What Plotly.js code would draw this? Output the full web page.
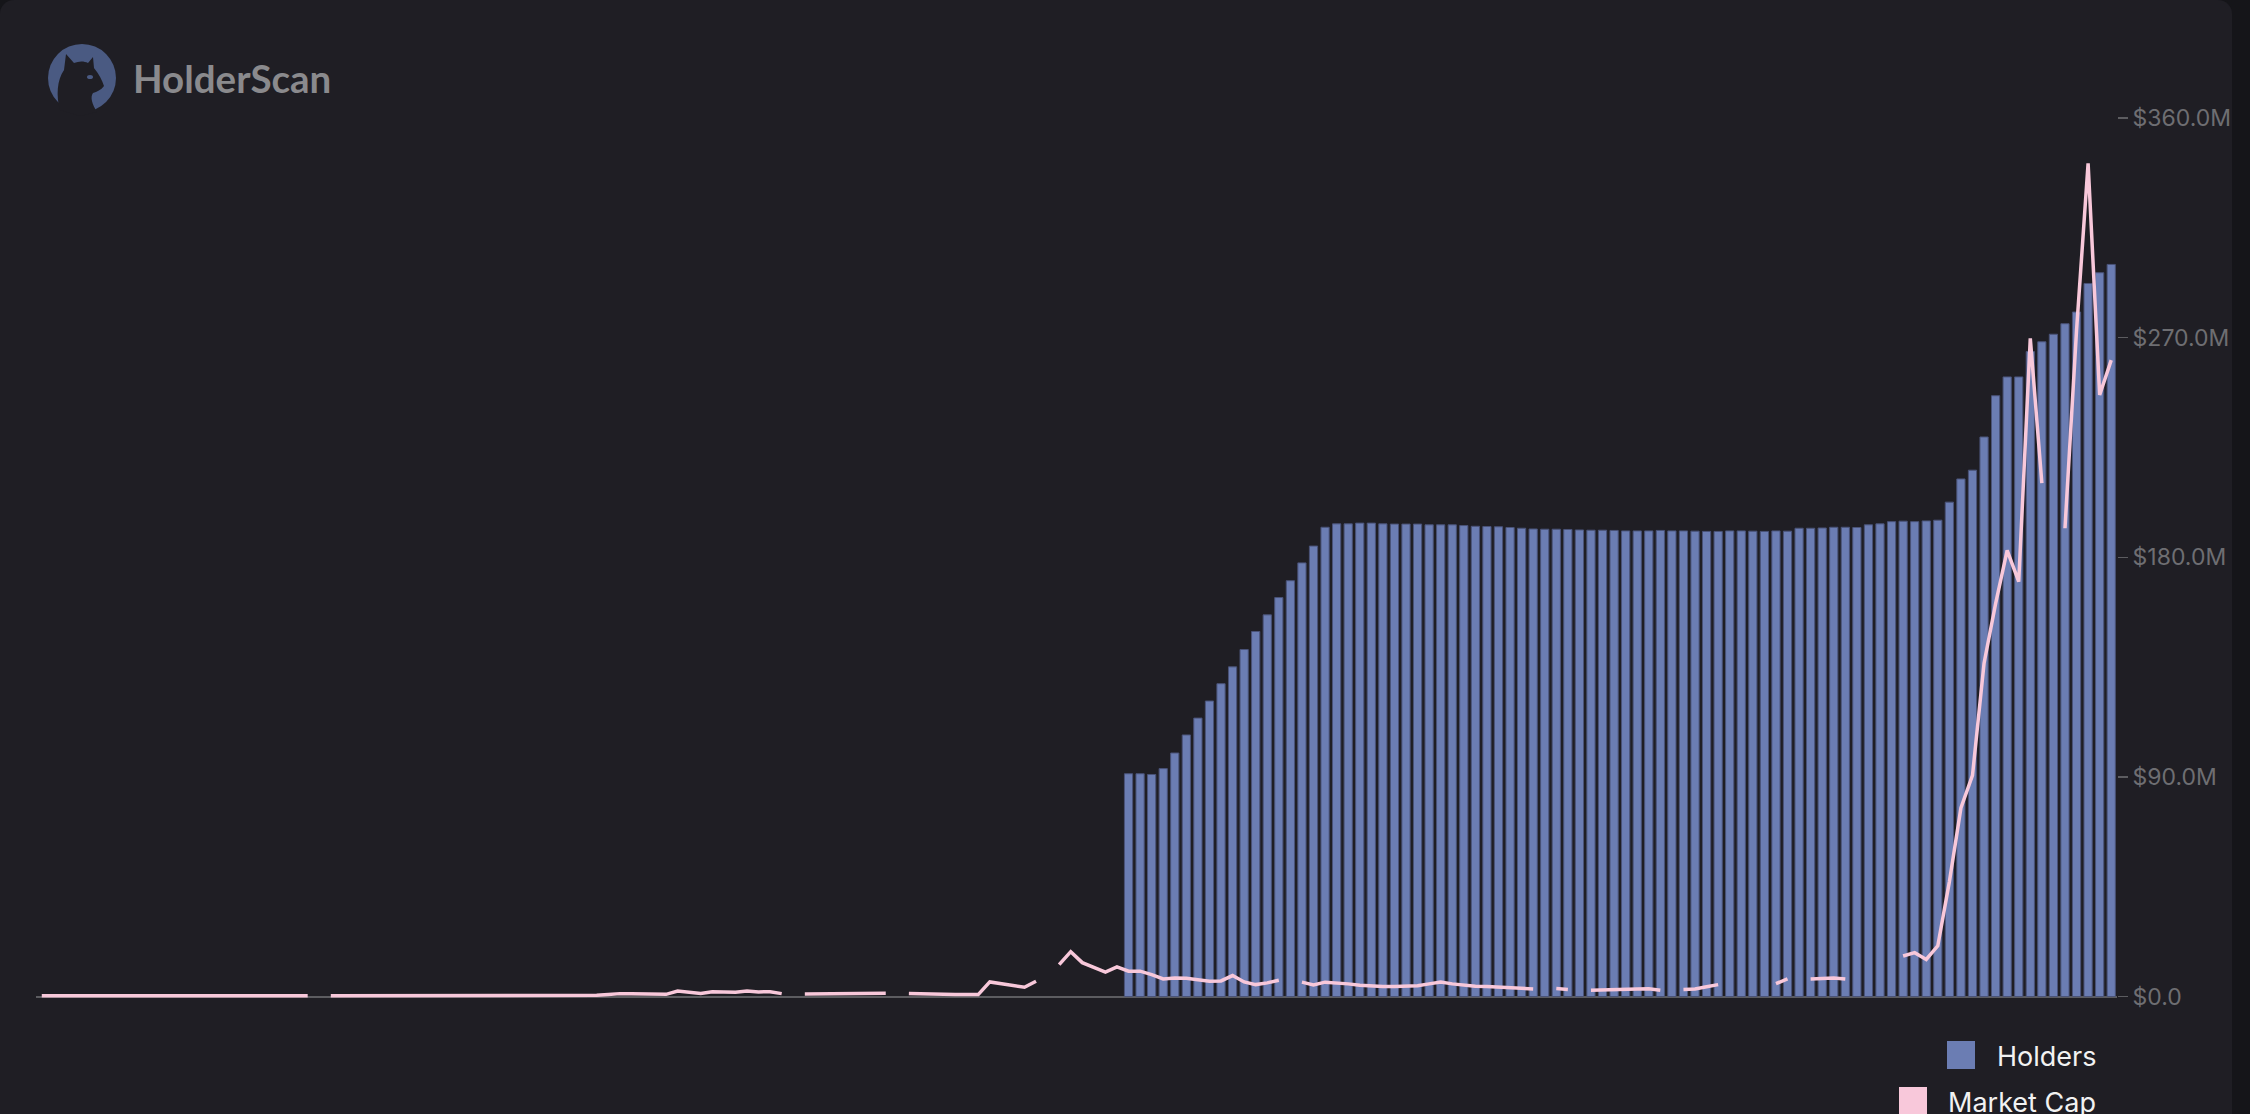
<!DOCTYPE html>
<html>
<head>
<meta charset="utf-8">
<script src="https://cdn.plot.ly/plotly-3.0.1.min.js"></script>
<style>
  html, body { margin:0; padding:0; background:#151519; width:2250px; height:1114px; overflow:hidden; }
  #card { position:absolute; left:0; top:0; width:2232px; height:1130px; background:#1f1e24; border-radius:14px; }
  #chart { position:absolute; left:0; top:0; width:2250px; height:1114px; }
</style>
</head>
<body>
<div id="card"></div>
<div id="chart"></div>
<script>
// ---- data ----
const dayCount = 180;                 // number of daily categories on the x axis
const holdersStart = 94;              // first day with a holders bar
// holder counts, days 94..179
const holders = [
  913, 913, 910, 934, 998, 1072, 1141, 1211, 1282, 1351,
  1422, 1496, 1564, 1635, 1704, 1777, 1846, 1923, 1937, 1937,
  1940, 1940, 1937, 1936, 1936, 1936, 1933, 1933, 1933, 1930,
  1927, 1926, 1925, 1922, 1919, 1916, 1915, 1915, 1914, 1912,
  1911, 1911, 1910, 1908, 1908, 1908, 1910, 1908, 1908, 1907,
  1906, 1906, 1908, 1908, 1907, 1906, 1908, 1907, 1919, 1919,
  1920, 1923, 1923, 1922, 1933, 1937, 1946, 1948, 1946, 1949,
  1952, 2026, 2121, 2157, 2293, 2462, 2539, 2539, 2643, 2683,
  2714, 2757, 2805, 2922, 2966, 3000
];
// market cap in $M, days 0..179 (null = no data)
const marketCap = [
  0.3,0.3,0.3,0.3,0.3,0.3,0.1,0.3,0.3,0.3,
  0.3,0.2,0.2,0.2,0.2,0.2,0.2,0.2,0.2,0.3,
  0.3,0.3,0.3,0.3,null,0.3,0.3,0.3,0.3,0.3,
  0.2,0.2,0.2,0.2,0.2,0.2,0.2,0.2,0.2,0.2,
  0.3,0.3,0.3,0.3,0.3,0.3,0.5,0.5,0.5,0.8,
  1.2,1.2,1.2,1.2,0.9,2.3,1.8,1.3,2.0,1.8,
  1.8,2.3,1.9,2.0,1.2,null,1.0,1.1,1.2,1.3,
  1.4,1.4,1.4,1.4,null,1.3,1.1,0.9,0.8,0.8,
  0.8,0.8,6.0,5.2,4.7,3.8,6.3,null,13.1,18.4,
  13.9,12.0,10.0,12.2,10.4,10.4,9.0,7.2,7.6,7.5,
  7.0,6.3,6.4,8.6,6.0,4.9,5.6,6.7,null,5.9,
  4.8,5.9,5.6,5.2,4.6,4.2,4.1,4.1,4.1,4.4,
  5.2,6.0,5.2,4.6,4.2,4.1,3.8,3.5,3.1,3.1,
  null,3.3,2.9,null,2.6,2.8,2.9,3.0,3.1,3.2,
  2.6,null,2.9,3.1,4.0,4.9,null,null,null,null,
  5.3,7.2,null,7.2,7.5,7.6,7.2,null,null,null,
  null,16.6,18.0,15.2,20.8,47.0,77.3,90.6,136.6,161.0,
  182.8,170.0,269.7,210.4,null,191.9,273.0,341.4,246.5,260.8
];
const yTickVals = [0, 90, 180, 270, 360];
const yTickText = ['$0.0', '$90.0M', '$180.0M', '$270.0M', '$360.0M'];
const legendNames = ['Holders', 'Market Cap'];
const brandName = 'HolderScan';

// ---- styling ----
const barColor = '#6b7db3';
const lineColor = '#f8c8da';
const W = 2250, H = 1114, L = 36, R = 133, T = 118, B = 115;
const pw = W - L - R, ph = H - T - B;
const px = X => (X - L) / pw;
const py = Y => (H - B - Y) / ph;

const days = Array.from({length: dayCount}, (_, i) => i);
const barDays = days.slice(holdersStart, holdersStart + holders.length);

const traces = [
  {
    type: 'bar', x: barDays, y: holders, yaxis: 'y', name: legendNames[0],
    marker: { color: barColor, line: { color: '#4a5378', width: 1 } },
    showlegend: false, hoverinfo: 'skip'
  },
  {
    type: 'scatter', mode: 'lines', x: days, y: marketCap, yaxis: 'y2', name: legendNames[1],
    line: { color: lineColor, width: 3.5 }, connectgaps: false,
    showlegend: false, hoverinfo: 'skip'
  }
];

function pathFrom(pts) {
  return pts.map(p => {
    if (p[0] === 'Z') return 'Z';
    const nums = p.slice(1);
    const pairs = [];
    for (let j = 0; j < nums.length; j += 2) pairs.push(px(nums[j]).toFixed(5) + ',' + py(nums[j + 1]).toFixed(5));
    return p[0] + ' ' + pairs.join(' ');
  }).join(' ');
}

const catPath = pathFrom([
  ['M', 60, 110],
  ['C', 56, 96, 57, 80, 64, 70],
  ['L', 66, 54],
  ['L', 74, 63],
  ['C', 79, 61, 84, 61, 88, 63],
  ['L', 93, 57],
  ['L', 94, 68],
  ['C', 99, 74, 102, 80, 104, 86],
  ['C', 101, 90, 97, 92, 93, 93],
  ['C', 90, 97, 92, 104, 97, 112],
  ['L', 80, 116],
  ['Z']
]);

const shapes = [
  { type: 'circle', xref: 'paper', yref: 'paper', x0: px(48), x1: px(116), y0: py(112), y1: py(44),
    fillcolor: '#4a5a82', line: { width: 0 }, layer: 'above' },
  { type: 'path', xref: 'paper', yref: 'paper', path: catPath, fillcolor: '#1f1e24', line: { width: 0 }, layer: 'above' },
  { type: 'circle', xref: 'paper', yref: 'paper', x0: px(87), x1: px(93), y0: py(79), y1: py(75),
    fillcolor: '#4a5a82', line: { width: 0 }, layer: 'above' },
  // legend swatches
  { type: 'rect', xref: 'paper', yref: 'paper', x0: px(1947), x1: px(1975), y0: py(1069), y1: py(1041),
    fillcolor: barColor, line: { width: 0 } },
  { type: 'rect', xref: 'paper', yref: 'paper', x0: px(1899), x1: px(1927), y0: py(1116), y1: py(1087),
    fillcolor: lineColor, line: { width: 0 } }
];

const annotations = [
  { xref: 'paper', yref: 'paper', x: px(131), y: py(78), xanchor: 'left', yanchor: 'middle', showarrow: false,
    text: '<b>' + brandName + '</b>', font: { family: 'Lato, Inter, sans-serif', size: 38.5, color: '#8a8a8d' } },
  { xref: 'paper', yref: 'paper', x: px(1995), y: py(1056), xanchor: 'left', yanchor: 'middle', showarrow: false,
    text: legendNames[0], font: { family: 'Inter, sans-serif', size: 27, color: '#f2f2f2' } },
  { xref: 'paper', yref: 'paper', x: px(1946), y: py(1102), xanchor: 'left', yanchor: 'middle', showarrow: false,
    text: legendNames[1], font: { family: 'Inter, sans-serif', size: 27, color: '#f2f2f2' } }
];

const layout = {
  width: W, height: H,
  margin: { l: L, r: R, t: T, b: B, pad: 0 },
  paper_bgcolor: 'rgba(0,0,0,0)', plot_bgcolor: 'rgba(0,0,0,0)',
  showlegend: false,
  bargap: 0.29,
  xaxis: {
    type: 'linear', range: [-0.5, dayCount - 0.5], showgrid: false, zeroline: false,
    showline: false, showticklabels: false, ticks: '', fixedrange: true
  },
  yaxis: {
    range: [-10, 3600], visible: false, showgrid: false, zeroline: false, fixedrange: true
  },
  yaxis2: {
    overlaying: 'y', side: 'right', range: [-1, 360], tickvals: yTickVals, ticktext: yTickText,
    showgrid: false, showline: false, zeroline: true, zerolinecolor: '#5c5c60', zerolinewidth: 2,
    ticks: 'outside', ticklen: 10, tickwidth: 1.5, tickcolor: '#5c5c60',
    tickfont: { family: 'Inter, sans-serif', size: 23, color: '#6e6e72' },
    fixedrange: true
  },
  shapes: shapes,
  annotations: annotations
};

Plotly.newPlot('chart', traces, layout, { displayModeBar: false, staticPlot: true });
</script>
</body>
</html>
